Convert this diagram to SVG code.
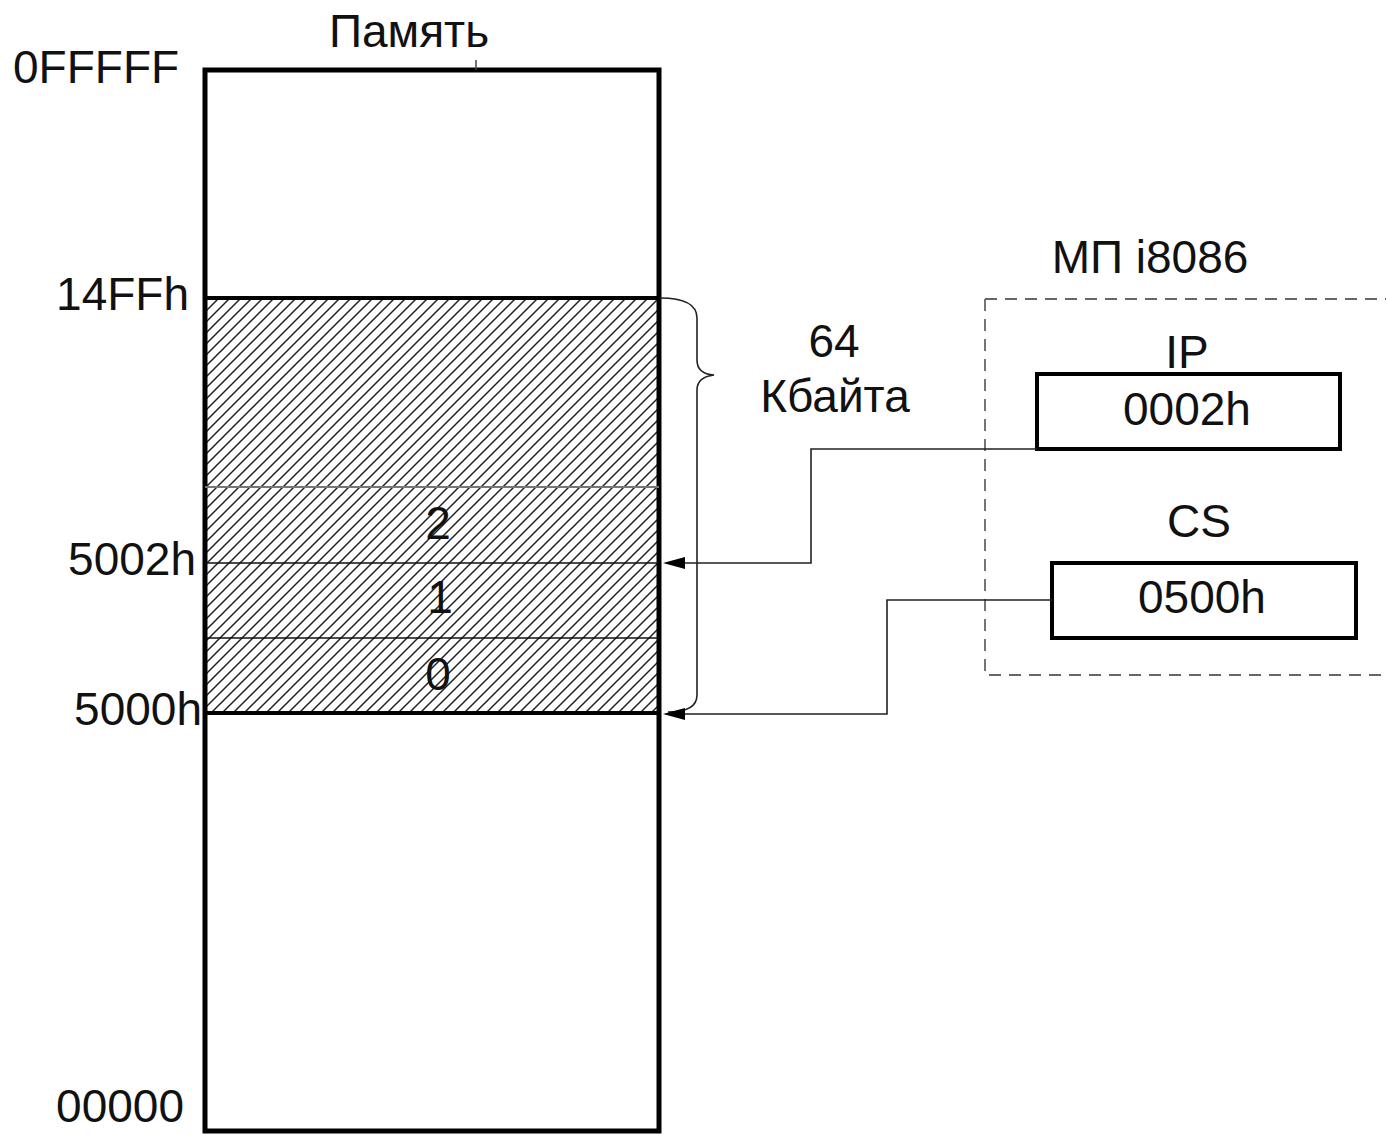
<svg xmlns="http://www.w3.org/2000/svg" width="1386" height="1135" viewBox="0 0 1386 1135">
<defs>
<pattern id="hatch" patternUnits="userSpaceOnUse" width="11" height="11">
<path d="M-1,1 L1,-1 M0,11 L11,0 M10,12 L12,10" stroke="#222" stroke-width="1.5"/>
</pattern>
</defs>
<style>
text{font-family:"Liberation Sans",Arial,sans-serif;font-size:46px;fill:#111}
.mid{text-anchor:middle}
.end{text-anchor:end}
.conn{fill:none;stroke:#222;stroke-width:1.6}
.reg{fill:#fff;stroke:#000;stroke-width:4}
</style>
<rect width="1386" height="1135" fill="#fff"/>
<g id="memory">
<rect x="205" y="298" width="454" height="415" fill="url(#hatch)"/>
<rect x="205" y="70" width="454" height="1061" fill="none" stroke="#000" stroke-width="5"/>
<line x1="205" y1="298" x2="659" y2="298" stroke="#000" stroke-width="4"/>
<line x1="205" y1="713" x2="659" y2="713" stroke="#000" stroke-width="4"/>
<line x1="205" y1="487" x2="659" y2="487" stroke="#777" stroke-width="2"/>
<line x1="205" y1="563" x2="659" y2="563" stroke="#111" stroke-width="1.6"/>
<line x1="205" y1="638" x2="659" y2="638" stroke="#111" stroke-width="1.6"/>
<line x1="476" y1="60" x2="476" y2="70" stroke="#444" stroke-width="1.5"/>
<text class="mid" x="409" y="47">Память</text>
<text class="mid" x="438" y="539">2</text>
<text class="mid" x="440" y="613">1</text>
<text class="mid" x="438" y="690">0</text>
</g>
<g id="labels">
<text x="13" y="83">0FFFFF</text>
<text class="end" x="189" y="310">14FFh</text>
<text class="end" x="196" y="575">5002h</text>
<text class="end" x="202" y="725">5000h</text>
<text class="end" x="184" y="1122">00000</text>
</g>
<g id="brace">
<path d="M660,298 Q697,298 697,318 L697,360 Q697,374 714,375 Q697,377 697,390 L697,695 Q697,712 668,712" fill="none" stroke="#222" stroke-width="1.6"/>
<text class="mid" x="834" y="357">64</text>
<text class="mid" x="835" y="412">Кбайта</text>
</g>
<g id="cpu">
<path d="M985,299 L1386,299 M985,299 L985,675 L1386,675" fill="none" stroke="#666" stroke-width="1.8" stroke-dasharray="12,8"/>
<text class="mid" x="1150" y="273">МП i8086</text>
</g>
<g id="ip">
<text class="mid" x="1187" y="368">IP</text>
<rect class="reg" x="1037" y="374" width="303" height="75"/>
<text class="mid" x="1187" y="425">0002h</text>
</g>
<g id="cs">
<text class="mid" x="1199" y="537">CS</text>
<rect class="reg" x="1052" y="563" width="304" height="75"/>
<text class="mid" x="1202" y="613">0500h</text>
</g>
<g id="connectors">
<path class="conn" d="M1037,449 L811,449 L811,563 L685,563"/>
<path d="M663,563 L685,557 L685,569 Z" fill="#000"/>
<path class="conn" d="M1052,600 L887,600 L887,714 L685,714"/>
<path d="M663,714 L685,708 L685,720 Z" fill="#000"/>
</g>
</svg>
